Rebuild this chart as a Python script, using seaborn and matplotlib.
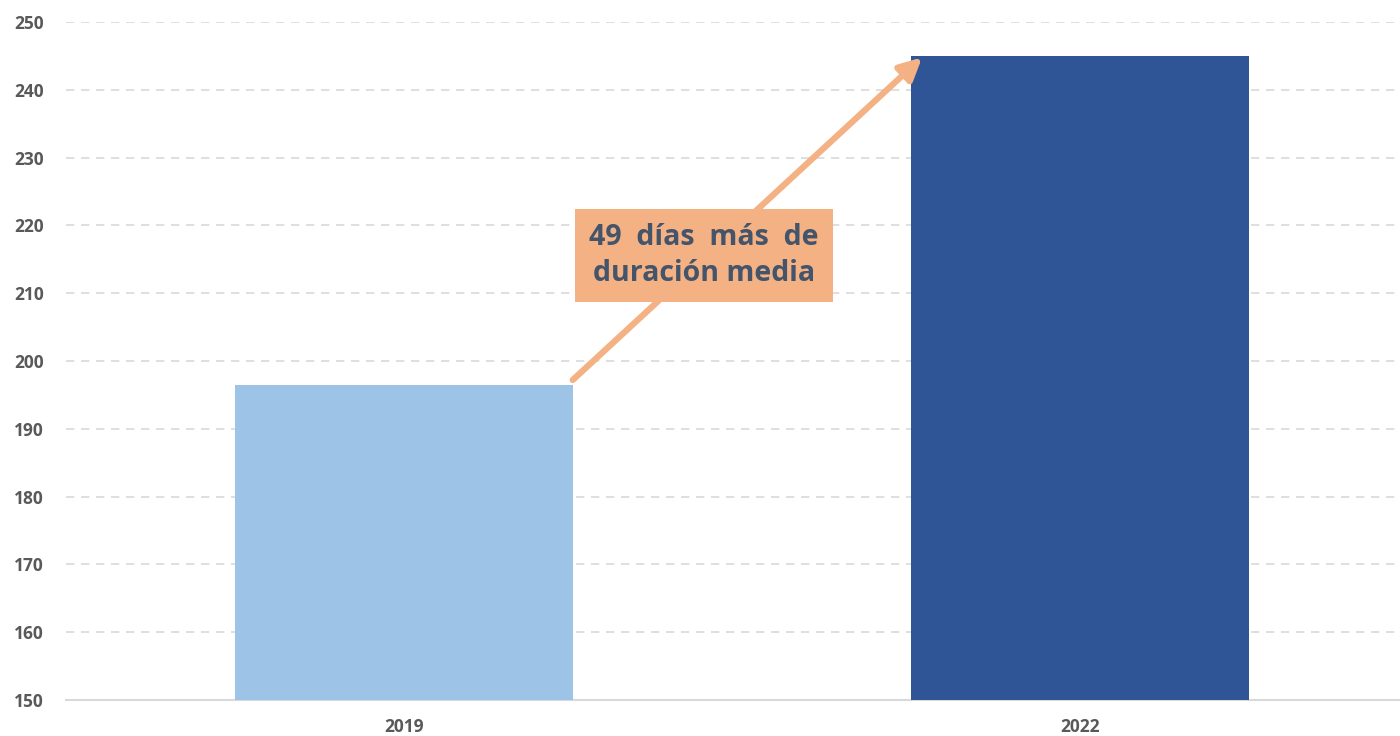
import matplotlib
matplotlib.use("Agg")
import matplotlib.pyplot as plt
import seaborn as sns
import pandas as pd

years = ["2019", "2022"]
duracion = [196.5, 245.0]
bar_colors = ["#9DC3E6", "#2F5597"]
y_ticks = [150, 160, 170, 180, 190, 200, 210, 220, 230, 240, 250]
note = "49  días  más  de\nduración media"

sns.set_theme(style="white")
plt.rcParams['font.family'] = ['Open Sans', 'DejaVu Sans']

df = pd.DataFrame({"year": years, "dias": duracion})

fig = plt.figure(figsize=(14, 7.36), dpi=100)
ax = fig.add_axes([0.047, 0.049, 0.953, 0.921])

sns.barplot(data=df, x="year", y="dias", hue="year", palette=bar_colors,
            width=0.5, legend=False, saturation=1, linewidth=0, ax=ax, zorder=3)

ax.set_ylim(150, 250)
ax.set_xlim(-0.5, 1.474)
ax.set_yticks(y_ticks)
ax.yaxis.grid(True, linestyle=(0, (5, 4)), color="#D9D9D9", linewidth=1.2, zorder=0)
ax.set_axisbelow(True)
for s in ["top", "right", "left"]:
    ax.spines[s].set_visible(False)
ax.spines["bottom"].set_color("#D9D9D9")
ax.spines["bottom"].set_linewidth(1.5)
ax.set_xlabel("")
ax.set_ylabel("")
ax.tick_params(axis="both", length=0, labelsize=12.5, labelcolor="#595959")
ax.tick_params(axis="y", pad=16)
ax.tick_params(axis="x", pad=13)
for lab in ax.get_xticklabels() + ax.get_yticklabels():
    lab.set_fontweight("bold")

# arrow from top of the 2019 bar to top of the 2022 bar
ax.annotate("", xy=(1 - 0.25 + 0.017, duracion[1] - 0.2), xytext=(0.25, duracion[0] + 0.7),
            arrowprops=dict(arrowstyle="-|>,head_length=1.1,head_width=0.55",
                            color="#F4B183", lw=4.5, shrinkA=0, shrinkB=0), zorder=4)

ax.text(0.444, 215.6, note, ha="center", va="center", fontsize=20.5, fontweight="bold",
        color="#44546A", linespacing=1.3, zorder=5,
        bbox=dict(boxstyle="square,pad=0.5", facecolor="#F4B183", edgecolor="none"))

fig.savefig("out.png", dpi=100)
